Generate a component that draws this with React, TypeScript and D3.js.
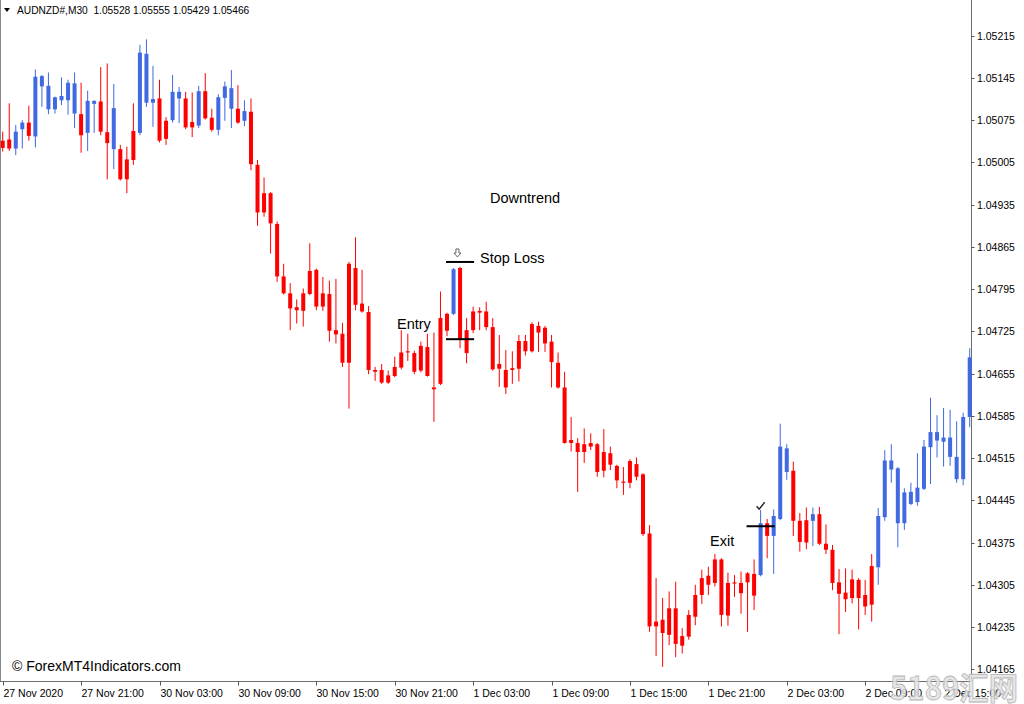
import React from 'react';
import * as d3 from 'd3';

// AUDNZD M30, 27 Nov 2020 -> 2 Dec 2020 (one entry per candle)
const opens = [
  1.05041, 1.05043, 1.05028, 1.05060, 1.05071, 1.05048, 1.05131, 1.05093, 1.05093, 1.05108,
  1.05108, 1.05086, 1.05085, 1.05054, 1.05102, 1.05106, 1.05055, 1.05027, 1.05027, 1.05010,
  1.05057, 1.05054, 1.05104, 1.05104, 1.05111, 1.05074, 1.05075, 1.05111, 1.05111, 1.05072,
  1.05066, 1.05123, 1.05079, 1.05059, 1.05112, 1.05094, 1.05094, 1.05074, 1.05089, 1.05001,
  1.04954, 1.04954, 1.04903, 1.04816, 1.04788, 1.04765, 1.04788, 1.04825, 1.04827, 1.04788,
  1.04787, 1.04727, 1.04721, 1.04837, 1.04830, 1.04771, 1.04757, 1.04661, 1.04661, 1.04652,
  1.04666, 1.04690, 1.04692, 1.04689, 1.04701, 1.04699, 1.04632, 1.04747, 1.04754, 1.04754,
  1.04830, 1.04727, 1.04758, 1.04759, 1.04758, 1.04732, 1.04671, 1.04661, 1.04664, 1.04709,
  1.04709, 1.04737, 1.04734, 1.04731, 1.04708, 1.04673, 1.04632, 1.04545, 1.04540, 1.04538,
  1.04540, 1.04538, 1.04525, 1.04523, 1.04502, 1.04476, 1.04510, 1.04505, 1.04488, 1.04390,
  1.04244, 1.04247, 1.04266, 1.04266, 1.04220, 1.04255, 1.04288, 1.04316, 1.04320, 1.04347,
  1.04347, 1.04308, 1.04309, 1.04308, 1.04324, 1.04323, 1.04321, 1.04407, 1.04386, 1.04414,
  1.04492, 1.04494, 1.04411, 1.04412, 1.04411, 1.04422, 1.04373, 1.04363, 1.04309, 1.04292,
  1.04314, 1.04313, 1.04288, 1.04336, 1.04334, 1.04417, 1.04496, 1.04407, 1.04407, 1.04439,
  1.04442, 1.04464, 1.04533, 1.04544, 1.04542, 1.04517, 1.04480, 1.04480, 1.04583,
];
const highs = [
  1.05056, 1.05103, 1.05067, 1.05075, 1.05099, 1.05159, 1.05150, 1.05154, 1.05114, 1.05146,
  1.05142, 1.05154, 1.05137, 1.05124, 1.05108, 1.05163, 1.05169, 1.05135, 1.05034, 1.05031,
  1.05103, 1.05200, 1.05209, 1.05165, 1.05142, 1.05080, 1.05150, 1.05130, 1.05122, 1.05121,
  1.05132, 1.05153, 1.05094, 1.05118, 1.05139, 1.05158, 1.05133, 1.05108, 1.05111, 1.05009,
  1.04980, 1.04956, 1.04907, 1.04837, 1.04805, 1.04778, 1.04796, 1.04871, 1.04829, 1.04815,
  1.04809, 1.04812, 1.04739, 1.04840, 1.04881, 1.04827, 1.04767, 1.04666, 1.04671, 1.04660,
  1.04683, 1.04727, 1.04721, 1.04693, 1.04708, 1.04721, 1.04723, 1.04791, 1.04756, 1.04830,
  1.04832, 1.04747, 1.04766, 1.04765, 1.04774, 1.04747, 1.04719, 1.04694, 1.04692, 1.04719,
  1.04719, 1.04740, 1.04741, 1.04734, 1.04719, 1.04690, 1.04658, 1.04583, 1.04548, 1.04564,
  1.04556, 1.04540, 1.04563, 1.04534, 1.04504, 1.04500, 1.04513, 1.04516, 1.04490, 1.04404,
  1.04316, 1.04283, 1.04294, 1.04310, 1.04233, 1.04263, 1.04305, 1.04330, 1.04335, 1.04356,
  1.04349, 1.04325, 1.04321, 1.04327, 1.04326, 1.04347, 1.04429, 1.04414, 1.04430, 1.04572,
  1.04538, 1.04509, 1.04424, 1.04433, 1.04433, 1.04434, 1.04405, 1.04371, 1.04331, 1.04332,
  1.04330, 1.04316, 1.04313, 1.04356, 1.04432, 1.04528, 1.04538, 1.04500, 1.04465, 1.04474,
  1.04523, 1.04545, 1.04615, 1.04586, 1.04598, 1.04595, 1.04576, 1.04590, 1.04697,
];
const lows = [
  1.05023, 1.05024, 1.05017, 1.05028, 1.05041, 1.05030, 1.05097, 1.05085, 1.05086, 1.05100,
  1.05084, 1.05062, 1.05021, 1.05024, 1.05054, 1.05050, 1.04977, 1.04994, 1.04975, 1.04954,
  1.05001, 1.05050, 1.05097, 1.05064, 1.05038, 1.05034, 1.05071, 1.05070, 1.05060, 1.05047,
  1.05062, 1.05076, 1.05056, 1.05050, 1.05074, 1.05062, 1.05069, 1.05065, 1.04992, 1.04900,
  1.04915, 1.04854, 1.04807, 1.04786, 1.04727, 1.04738, 1.04733, 1.04785, 1.04760, 1.04759,
  1.04708, 1.04705, 1.04666, 1.04597, 1.04760, 1.04756, 1.04654, 1.04643, 1.04638, 1.04638,
  1.04649, 1.04662, 1.04676, 1.04654, 1.04657, 1.04650, 1.04575, 1.04636, 1.04717, 1.04752,
  1.04697, 1.04672, 1.04722, 1.04727, 1.04727, 1.04660, 1.04633, 1.04621, 1.04638, 1.04642,
  1.04685, 1.04690, 1.04691, 1.04691, 1.04632, 1.04630, 1.04539, 1.04526, 1.04459, 1.04507,
  1.04528, 1.04484, 1.04483, 1.04495, 1.04465, 1.04454, 1.04465, 1.04478, 1.04386, 1.04227,
  1.04187, 1.04169, 1.04205, 1.04185, 1.04191, 1.04214, 1.04238, 1.04273, 1.04288, 1.04302,
  1.04236, 1.04237, 1.04285, 1.04257, 1.04227, 1.04263, 1.04319, 1.04349, 1.04323, 1.04412,
  1.04479, 1.04386, 1.04360, 1.04364, 1.04369, 1.04371, 1.04356, 1.04296, 1.04223, 1.04260,
  1.04274, 1.04231, 1.04255, 1.04244, 1.04305, 1.04411, 1.04474, 1.04367, 1.04396, 1.04437,
  1.04436, 1.04462, 1.04472, 1.04516, 1.04501, 1.04502, 1.04474, 1.04470, 1.04566,
];
const closes = [
  1.05029, 1.05028, 1.05056, 1.05071, 1.05049, 1.05147, 1.05148, 1.05132, 1.05113, 1.05115,
  1.05137, 1.05136, 1.05050, 1.05107, 1.05107, 1.05056, 1.05037, 1.05095, 1.04977, 1.04977,
  1.05009, 1.05187, 1.05185, 1.05110, 1.05041, 1.05044, 1.05122, 1.05122, 1.05063, 1.05063,
  1.05123, 1.05078, 1.05059, 1.05113, 1.05131, 1.05128, 1.05071, 1.05090, 1.05002, 1.04922,
  1.04922, 1.04904, 1.04816, 1.04788, 1.04763, 1.04760, 1.04759, 1.04787, 1.04766, 1.04766,
  1.04726, 1.04720, 1.04673, 1.04673, 1.04769, 1.04758, 1.04661, 1.04658, 1.04640, 1.04640,
  1.04651, 1.04665, 1.04690, 1.04658, 1.04660, 1.04651, 1.04629, 1.04638, 1.04726, 1.04828,
  1.04712, 1.04689, 1.04727, 1.04756, 1.04732, 1.04662, 1.04663, 1.04632, 1.04661, 1.04663,
  1.04692, 1.04692, 1.04723, 1.04705, 1.04674, 1.04632, 1.04540, 1.04540, 1.04525, 1.04525,
  1.04534, 1.04492, 1.04494, 1.04504, 1.04478, 1.04474, 1.04474, 1.04484, 1.04389, 1.04236,
  1.04236, 1.04225, 1.04222, 1.04207, 1.04204, 1.04219, 1.04252, 1.04288, 1.04305, 1.04308,
  1.04255, 1.04254, 1.04307, 1.04291, 1.04309, 1.04287, 1.04407, 1.04386, 1.04419, 1.04534,
  1.04531, 1.04411, 1.04376, 1.04375, 1.04422, 1.04373, 1.04363, 1.04308, 1.04290, 1.04281,
  1.04283, 1.04283, 1.04269, 1.04272, 1.04419, 1.04511, 1.04511, 1.04498, 1.04458, 1.04459,
  1.04466, 1.04534, 1.04558, 1.04558, 1.04549, 1.04549, 1.04517, 1.04583, 1.04682,
];

const priceTicks = [
  1.05215, 1.05145, 1.05075, 1.05005, 1.04935, 1.04865, 1.04795, 1.04725,
  1.04655, 1.04585, 1.04515, 1.04445, 1.04375, 1.04305, 1.04235, 1.04165,
];
const timeLabels = [
  '27 Nov 2020', '27 Nov 21:00', '30 Nov 03:00', '30 Nov 09:00', '30 Nov 15:00',
  '30 Nov 21:00', '1 Dec 03:00', '1 Dec 09:00', '1 Dec 15:00', '1 Dec 21:00',
  '2 Dec 03:00', '2 Dec 09:00', '2 Dec 15:00',
];
const BARS_PER_LABEL = 12;

// trade markers
const stopLossPrice = 1.0484;
const entryPrice = 1.04712;
const exitPrice = 1.04402;
const tradeBars = [68, 72];
const exitBars = [114, 118];

const W = 1024;
const H = 704;
const AXIS_X = 971.5;
const AXIS_Y = 681.5;

const UP = '#4169e1';
const DOWN = '#ff0000';
const AXIS_FONT = '"Liberation Sans", Arial, sans-serif';

export default function App() {
  const n = opens.length;
  const x = d3.scaleLinear().domain([0, n - 1]).range([2.7, 969.7]);
  const y = d3.scaleLinear().domain([1.04235, 1.05215]).range([627, 35.7]);
  const bodyW = 4;

  const candles = d3.range(n).map(i => {
    const o = opens[i], c = closes[i];
    const up = c > o;
    const cx = x(i);
    const top = y(Math.max(o, c));
    const bot = y(Math.min(o, c));
    return (
      <g key={i} fill={up ? UP : DOWN} stroke="none">
        <rect x={cx - 0.5} y={y(highs[i])} width={1} height={y(lows[i]) - y(highs[i])} />
        <rect x={cx - bodyW / 2} y={top} width={bodyW} height={Math.max(1, bot - top)} />
      </g>
    );
  });

  const fmt = d3.format('.5f');

  return (
    <div style={{ position: 'fixed', left: 0, top: 0, width: W, height: H, background: '#fff' }}>
      <svg width={W} height={H} style={{ display: 'block' }}>
        <rect x={0} y={0} width={W} height={H} fill="#fff" />

        {/* frame */}
        <line x1={0.5} y1={0} x2={0.5} y2={AXIS_Y} stroke="#8a8a8a" strokeWidth={1} />
        <line x1={AXIS_X} y1={0} x2={AXIS_X} y2={AXIS_Y} stroke="#6e6e6e" />
        <line x1={0} y1={AXIS_Y} x2={AXIS_X} y2={AXIS_Y} stroke="#6e6e6e" />

        {candles}

        {/* price axis */}
        <g fontFamily={AXIS_FONT} fontSize={10.5} fill="#000">
          {priceTicks.map(p => (
            <g key={p}>
              <line x1={AXIS_X} x2={AXIS_X + 3} y1={Math.round(y(p)) + 0.5} y2={Math.round(y(p)) + 0.5} stroke="#555" />
              <text x={977} y={y(p) + 4}>{fmt(p)}</text>
            </g>
          ))}
        </g>

        {/* time axis */}
        <g fontFamily={AXIS_FONT} fontSize={10.5} fill="#000">
          {timeLabels.map((t, k) => {
            const tx = Math.round(x(k * BARS_PER_LABEL)) + 0.5;
            return (
              <g key={t}>
                <line x1={tx} x2={tx} y1={AXIS_Y} y2={AXIS_Y + 4} stroke="#555" />
                <text x={tx} y={697}>{t}</text>
              </g>
            );
          })}
        </g>

        {/* header */}
        <path d="M4,8 L10,8 L7,12 Z" fill="#000" />
        <text x={17} y={14} fontFamily={AXIS_FONT} fontSize={10.2} fill="#000" xmlSpace="preserve">
          AUDNZD#,M30  1.05528 1.05555 1.05429 1.05466
        </text>

        {/* trade markers */}
        <g stroke="#000" strokeWidth={2}>
          <line x1={x(tradeBars[0]) - 1} x2={x(tradeBars[1]) + 1} y1={y(stopLossPrice)} y2={y(stopLossPrice)} />
          <line x1={x(tradeBars[0]) - 1} x2={x(tradeBars[1]) + 1} y1={y(entryPrice)} y2={y(entryPrice)} />
          <line x1={x(exitBars[0]) - 1} x2={x(exitBars[1]) + 1} y1={y(exitPrice)} y2={y(exitPrice)} />
        </g>
        <g transform={`translate(${x(69.6)},${y(stopLossPrice) - 9})`}>
          <path d="M-1.5,-4 L1.5,-4 L1.5,0 L3.5,0 L0,4 L-3.5,0 L-1.5,0 Z" fill="#fff" stroke="#666" strokeWidth={1} />
        </g>
        <g transform={`translate(${x(116)},${y(exitPrice) - 20})`}>
          <path d="M-4,0 L-1.5,3 L4,-4" fill="none" stroke="#222" strokeWidth={1.4} />
        </g>

        <g fontFamily={AXIS_FONT} fontSize={14.5} fill="#000">
          <text x={490} y={203}>Downtrend</text>
          <text x={480} y={263}>Stop Loss</text>
          <text x={397} y={329}>Entry</text>
          <text x={710} y={546}>Exit</text>
        </g>

        <text x={12} y={671} fontFamily={AXIS_FONT} fontSize={14} fill="#000">© ForexMT4Indicators.com</text>

        {/* watermark */}
        <text x={890} y={700} fontFamily='"Noto Sans CJK SC", sans-serif' fontSize={32} fontWeight={700}
          fill="#e2e2e2" fillOpacity={0.85} stroke="#b5b5b5" strokeWidth={0.8} textLength={128}
          lengthAdjust="spacingAndGlyphs">5189汇网</text>
      </svg>
    </div>
  );
}
